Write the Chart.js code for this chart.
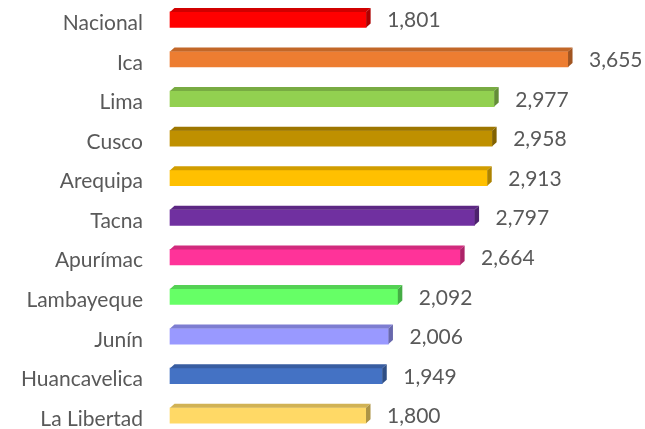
<!DOCTYPE html>
<html>
<head>
<meta charset="utf-8">
<script src="https://cdn.jsdelivr.net/npm/chart.js@4"></script>
<style>
html,body{margin:0;padding:0;background:#fff;}
#wrap{width:645px;height:429px;position:relative;}
</style>
</head>
<body>
<div id="wrap"><canvas id="c" width="645" height="429"></canvas></div>
<script>
const categories = ["Nacional","Ica","Lima","Cusco","Arequipa","Tacna","Apurímac","Lambayeque","Junín","Huancavelica","La Libertad"];
const values = [1801,3655,2977,2958,2913,2797,2664,2092,2006,1949,1800];
const barColors = ["#FF0000","#ED7D31","#92D050","#BF9000","#FFC000","#7030A0","#FF3399","#66FF66","#9999FF","#4472C4","#FFD966"];

const FONT = "Lato, 'Open Sans', sans-serif";
const TEXT = "#595959";

function shade(hex, f){
  const n = parseInt(hex.slice(1),16);
  const r = Math.round(((n>>16)&255)*f), g = Math.round(((n>>8)&255)*f), b = Math.round((n&255)*f);
  return `rgb(${r},${g},${b})`;
}

const bar3d = {
  id:'bar3d',
  afterDatasetsDraw(chart){
    const ctx = chart.ctx;
    const meta = chart.getDatasetMeta(0);
    const dx = 4.5, dy = 4;
    ctx.save();
    meta.data.forEach((el,i)=>{
      const p = el.getProps(['x','y','base','height'], true);
      const x0 = p.base, x1 = p.x, top = p.y - p.height/2, bot = p.y + p.height/2;
      const col = barColors[i];
      ctx.fillStyle = shade(col,0.82);
      ctx.beginPath();
      ctx.moveTo(x0, top); ctx.lineTo(x1, top); ctx.lineTo(x1+dx, top-dy); ctx.lineTo(x0+dx, top-dy); ctx.closePath();
      ctx.fill();
      ctx.fillStyle = shade(col,0.68);
      ctx.beginPath();
      ctx.moveTo(x1, top); ctx.lineTo(x1+dx, top-dy); ctx.lineTo(x1+dx, bot-dy); ctx.lineTo(x1, bot); ctx.closePath();
      ctx.fill();
      ctx.fillStyle = TEXT;
      ctx.font = "21px " + FONT;
      ctx.textAlign = 'left';
      ctx.textBaseline = 'middle';
      ctx.fillText(values[i].toLocaleString('en-US'), x1 + 21, p.y + 1);
    });
    ctx.restore();
  }
};

new Chart(document.getElementById('c'), {
  type:'bar',
  data:{
    labels: categories,
    datasets:[{
      data: values,
      backgroundColor: barColors,
      borderWidth: 0,
      barThickness: 15.5,
      clip: false
    }]
  },
  options:{
    indexAxis:'y',
    responsive:false,
    animation:false,
    devicePixelRatio:1,
    layout:{padding:{top:19.7, bottom:13.5, left:0, right:39.4}},
    plugins:{legend:{display:false}, tooltip:{enabled:false}},
    scales:{
      x:{
        display:false,
        min:0,
        max:4000
      },
      y:{
        offset:false,
        grid:{display:false, drawTicks:false},
        border:{display:false},
        ticks:{
          color: TEXT,
          font:{family: FONT, size:21},
          padding: 27,
          labelOffset: 3.5,
          autoSkip:false
        },
        afterFit(scale){ scale.width = 170; scale.paddingTop = 0; scale.paddingBottom = 0; }
      }
    }
  },
  plugins:[bar3d]
});
</script>
</body>
</html>
